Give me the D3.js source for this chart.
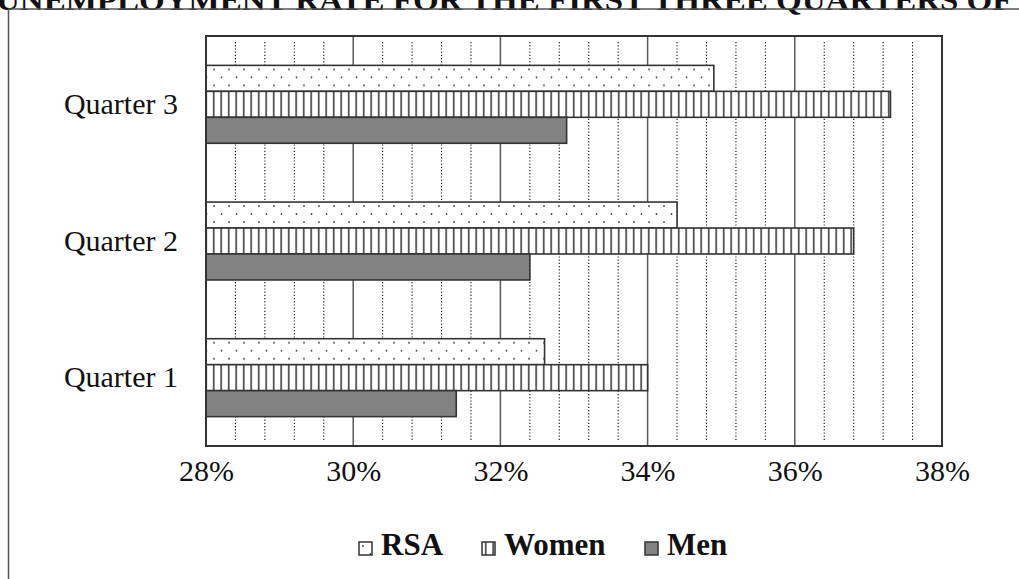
<!DOCTYPE html>
<html>
<head>
<meta charset="utf-8">
<script src="https://cdn.jsdelivr.net/npm/d3@7"></script>
<style>
  html, body { margin: 0; padding: 0; background: #fff; }
  svg { display: block; }
</style>
</head>
<body>
<svg id="chart" width="1019" height="579"></svg>
<script>
// ---- data ----
const titleText = "UNEMPLOYMENT RATE FOR THE FIRST THREE QUARTERS OF 2";
const categories = ["Quarter 3", "Quarter 2", "Quarter 1"];
const seriesNames = ["RSA", "Women", "Men"];
const rsaValues   = [0.349, 0.344, 0.326];
const womenValues = [0.373, 0.368, 0.340];
const menValues   = [0.329, 0.324, 0.314];
const tickValues  = [0.28, 0.30, 0.32, 0.34, 0.36, 0.38];

const seriesValues = { RSA: rsaValues, Women: womenValues, Men: menValues };
const rows = categories.map((c, i) => ({
  cat: c,
  vals: seriesNames.map(s => ({ s, v: seriesValues[s][i] }))
}));

const svg = d3.select("#chart");
const serif = "'Liberation Serif', 'Times New Roman', serif";

// patterns
const defs = svg.append("defs");
const pd = defs.append("pattern").attr("id", "dots").attr("patternUnits", "userSpaceOnUse")
  .attr("width", 15).attr("height", 16);
pd.append("rect").attr("width", 15).attr("height", 16).attr("fill", "#fff");
pd.append("circle").attr("cx", 4).attr("cy", 4).attr("r", 0.9).attr("fill", "#444");
pd.append("circle").attr("cx", 11.5).attr("cy", 12).attr("r", 0.9).attr("fill", "#444");

const pv = defs.append("pattern").attr("id", "vlines").attr("patternUnits", "userSpaceOnUse")
  .attr("width", 7.5).attr("height", 10);
pv.append("rect").attr("width", 7.5).attr("height", 10).attr("fill", "#fff");
pv.append("rect").attr("x", 3).attr("width", 1.4).attr("height", 10).attr("fill", "#222");

const fills = { RSA: "url(#dots)", Women: "url(#vlines)", Men: "#828282" };

// outer frame + title (cropped at the top edge, as in the scanned reference)
svg.append("text").attr("x", -4).attr("y", 10)
  .attr("font-family", serif).attr("font-weight", "bold").attr("font-size", 30)
  .attr("textLength", 1040).attr("lengthAdjust", "spacingAndGlyphs")
  .attr("fill", "#111").text(titleText);
svg.append("line").attr("x1", 8.5).attr("x2", 1019).attr("y1", 9).attr("y2", 9)
  .attr("stroke", "#555").attr("stroke-width", 1.5);
svg.append("line").attr("x1", 8.5).attr("x2", 8.5).attr("y1", 9).attr("y2", 579)
  .attr("stroke", "#555").attr("stroke-width", 1.5);

// scales
const L = 206, R = 942, T = 36, B = 446;
const x = d3.scaleLinear().domain([0.28, 0.38]).range([L, R]);
const y = d3.scaleBand().domain(categories).range([T, B]).paddingInner(0.43).paddingOuter(0.215);
const ys = d3.scaleBand().domain(seriesNames).range([0, y.bandwidth()]);

// plot background
svg.append("rect").attr("x", L).attr("y", T).attr("width", R - L).attr("height", B - T).attr("fill", "#fff");

// minor dotted grid
const minor = d3.range(0.28, 0.3801, 0.004).filter(v => Math.abs(Math.round(v * 50) - v * 50) > 1e-6);
svg.append("g").selectAll("line").data(minor).join("line")
  .attr("x1", d => x(d)).attr("x2", d => x(d)).attr("y1", T + 6).attr("y2", B - 4)
  .attr("stroke", "#111").attr("stroke-width", 1.1).attr("stroke-dasharray", "1.2,2");

// major grid
svg.append("g").selectAll("line").data(tickValues.slice(1, -1)).join("line")
  .attr("x1", d => x(d)).attr("x2", d => x(d)).attr("y1", T).attr("y2", B)
  .attr("stroke", "#5a5a5a").attr("stroke-width", 1.5);

// bars
const g = svg.append("g");
rows.forEach(r => {
  g.append("g").attr("transform", `translate(0,${y(r.cat)})`)
    .selectAll("rect").data(r.vals).join("rect")
    .attr("x", x(0.28))
    .attr("y", d => ys(d.s))
    .attr("width", d => x(d.v) - x(0.28))
    .attr("height", ys.bandwidth())
    .attr("fill", d => fills[d.s])
    .attr("stroke", "#333").attr("stroke-width", 1.6);
});

// plot border
svg.append("rect").attr("x", L).attr("y", T).attr("width", R - L).attr("height", B - T)
  .attr("fill", "none").attr("stroke", "#333").attr("stroke-width", 2);

// x axis
const xAxis = svg.append("g").attr("transform", `translate(0,${B})`)
  .call(d3.axisBottom(x).tickValues(tickValues).tickFormat(d3.format(".0%")).tickSize(0).tickPadding(14));
xAxis.select(".domain").remove();
xAxis.selectAll("text").attr("font-family", serif).attr("font-size", 30).attr("fill", "#111");

// y axis
const yAxis = svg.append("g").attr("transform", `translate(${L},0)`)
  .call(d3.axisLeft(y).tickSize(0).tickPadding(28));
yAxis.select(".domain").remove();
yAxis.selectAll("text").attr("font-family", serif).attr("font-size", 30).attr("fill", "#111");

// legend
const legendX = [359, 482, 645];
const leg = svg.append("g");
seriesNames.forEach((s, i) => {
  const lg = leg.append("g").attr("transform", `translate(${legendX[i]},542)`);
  lg.append("rect").attr("width", 13).attr("height", 13).attr("fill", fills[s])
    .attr("stroke", "#333").attr("stroke-width", 1.5);
  lg.append("text").attr("x", 22).attr("y", 13).attr("font-family", serif)
    .attr("font-weight", "bold").attr("font-size", 31).attr("fill", "#111").text(s);
});
</script>
</body>
</html>
